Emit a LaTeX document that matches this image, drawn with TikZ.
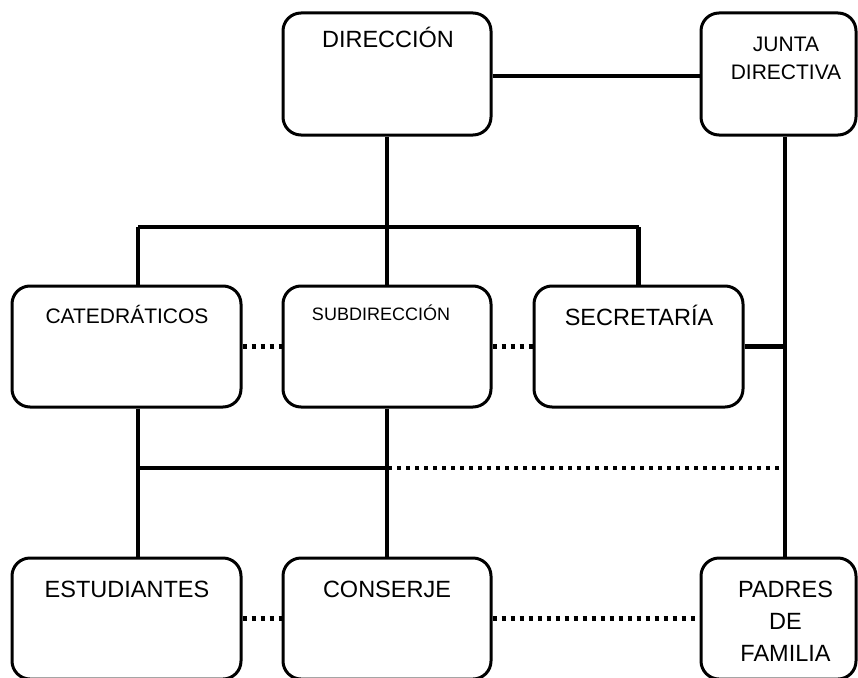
\documentclass[tikz,border=0pt]{standalone}
\usepackage{fontspec}
\setmainfont{Liberation Sans}
\tikzset{
  unit/.style={rectangle, draw, rounded corners=18pt, line width=3pt, inner sep=0pt},
  link/.style={line width=4.5pt},
  dotlink/.style={line width=4.3pt, dash pattern=on 4pt off 5pt},
  lbl/.style={anchor=base, inner sep=0pt, align=center, font=\fontsize{23.5}{32}\selectfont}
}
\begin{document}
\begin{tikzpicture}[x=1pt, y=-1pt]
  \useasboundingbox (0, 0) rectangle (858, 677);

  \node (dir) [unit, minimum width=208pt, minimum height=122pt] at (387, 74) {};
  \node (junta) [unit, minimum width=155pt, minimum height=122pt] at (778.5, 74) {};
  \node (cat) [unit, minimum width=229pt, minimum height=121pt] at (126.5, 346.5) {};
  \node (sub) [unit, minimum width=208pt, minimum height=121pt] at (387, 346.5) {};
  \node (sec) [unit, minimum width=209pt, minimum height=121pt] at (638.5, 346.5) {};
  \node (est) [unit, minimum width=229pt, minimum height=121pt] at (126.5, 618.5) {};
  \node (con) [unit, minimum width=208pt, minimum height=121pt] at (387, 618.5) {};
  \node (pad) [unit, minimum width=155pt, minimum height=121pt] at (778.5, 618.5) {};

  \node (dirtext) [lbl] at (388, 48) {DIRECCIÓN};
  \node (juntatext) [lbl, font=\fontsize{21}{28}\selectfont] at (786, 79) {JUNTA\\DIRECTIVA};
  \node (cattext) [lbl, font=\fontsize{21}{28}\selectfont] at (127, 323) {CATEDRÁTICOS};
  \node (subtext) [lbl, font=\fontsize{18}{24}\selectfont] at (381, 320.5) {SUBDIRECCIÓN};
  \node (sectext) [lbl] at (639, 325) {SECRETARÍA};
  \node (esttext) [lbl] at (127, 597) {ESTUDIANTES};
  \node (context) [lbl] at (387, 597) {CONSERJE};
  \node (padtext) [lbl] at (785.5, 661) {PADRES\\DE\\FAMILIA};

  \coordinate (top1) at (138, 227);
  \coordinate (top3) at (638.5, 227);
  \coordinate (mid1) at (138, 468);
  \coordinate (mid2) at (388, 468);
  \coordinate (jtop) at ([xshift=6.5pt]junta.south);
  \coordinate (mid3) at (jtop |- mid1);

  \draw[link] ([yshift=-2pt]dir.east) -- ([yshift=-2pt]junta.west);
  \draw[link] (dir) -- (sub);
  \draw[link] (top1) -- (top3);
  \draw[link] (top1) -- (top1 |- cat.north);
  \draw[link] (top3) -- (top3 |- sec.north);
  \draw[link] (jtop) -- (jtop |- pad.north);
  \draw[link] (sec.east) -- (sec.east -| jtop);
  \draw[link] (mid1 |- cat.south) -- (mid1 |- est.north);
  \draw[link] (sub) -- (con);
  \draw[link] (mid1) -- (mid2);
  \draw[dotlink] (mid2) -- (mid3);
  \draw[dotlink] (cat) -- (sub);
  \draw[dotlink] (sub) -- (sec);
  \draw[dotlink] (est) -- (con);
  \draw[dotlink] (con) -- (pad);
\end{tikzpicture}
\end{document}
